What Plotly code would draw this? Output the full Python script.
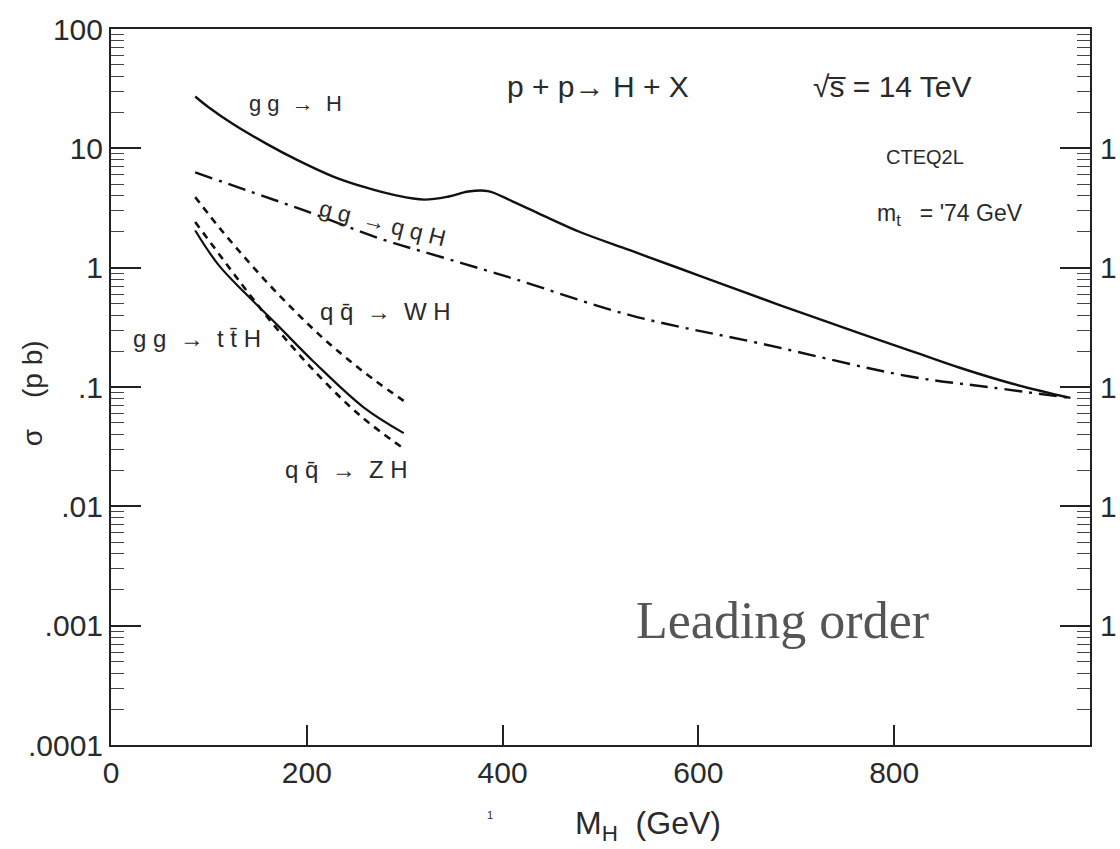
import plotly.graph_objects as go

# ---- data ----
gg_h_x = [86, 100, 125, 159, 190, 227, 260, 290, 320, 345, 365, 385, 410, 445, 479, 530, 581, 630, 683, 765, 820, 867, 920, 980]
gg_h_y = [27.2, 22.0, 15.9, 10.9, 8.0, 5.8, 4.7, 4.05, 3.72, 3.95, 4.35, 4.38, 3.6, 2.65, 1.99, 1.40, 0.984, 0.70, 0.486, 0.282, 0.197, 0.145, 0.107, 0.081]

qqh_x = [86, 140, 196, 275, 340, 411, 530, 663, 816, 900, 980]
qqh_y = [6.3, 4.4, 3.05, 1.75, 1.21, 0.81, 0.40, 0.232, 0.1225, 0.099, 0.081]

tth_x = [86, 110, 139, 170, 207, 258, 299]
tth_y = [2.05, 1.05, 0.589, 0.33, 0.163, 0.0676, 0.0411]

wh_x = [86, 115, 156, 190, 217, 241, 268, 302]
wh_y = [3.9, 1.96, 0.807, 0.415, 0.255, 0.173, 0.116, 0.0736]

zh_x = [86, 105, 122, 139, 170, 207, 254, 299]
zh_y = [2.41, 1.49, 0.968, 0.634, 0.304, 0.138, 0.058, 0.0305]

x_ticks = [0, 200, 400, 600, 800, 1000]
y_ticks = [1e-4, 1e-3, 1e-2, 1e-1, 1, 10, 100]
y_tick_text = [".0001", ".001", ".01", ".1", "1", "10", "100"]
right_label_exps = [1, 0, -1, -2, -3]

FONT = "Liberation Sans"
TXT = "#2a2a2a"

fig = go.Figure()

def add_line(x, y, dash, width=2.4):
    fig.add_trace(go.Scatter(x=x, y=y, mode="lines",
                             line=dict(color="#111111", width=width, dash=dash, shape="spline", smoothing=1.0),
                             showlegend=False, hoverinfo="skip"))

add_line(gg_h_x, gg_h_y, "solid")
add_line(qqh_x, qqh_y, "18px,7px,3px,7px")
add_line(tth_x, tth_y, "solid", 2.2)
add_line(wh_x, wh_y, "7px,6px", 2.6)
add_line(zh_x, zh_y, "7px,6px", 2.6)

minor_vals = [m * 10.0 ** e for e in range(-4, 2) for m in range(2, 10)]

fig.update_xaxes(range=[0, 1000], tickvals=x_ticks, ticktext=[str(v) for v in x_ticks],
                 ticks="inside", ticklen=20, tickwidth=1.5, tickcolor="#222",
                 showline=True, linewidth=2, linecolor="#222", mirror=True,
                 showgrid=False, zeroline=False,
                 tickfont=dict(family=FONT, size=30, color=TXT))

fig.update_yaxes(type="log", range=[-4, 2], tickvals=y_ticks, ticktext=y_tick_text,
                 ticks="inside", ticklen=30, tickwidth=1.5, tickcolor="#222",
                 minor=dict(ticks="inside", ticklen=13, tickwidth=1.2, tickcolor="#444", tickvals=minor_vals),
                 showline=True, linewidth=2, linecolor="#222", mirror="ticks",
                 showgrid=False, zeroline=False,
                 tickfont=dict(family=FONT, size=30, color=TXT))

ann = []
def t(text, x, y, size, angle=0, family=FONT, color=TXT, xanchor="center", xref="paper", yref="paper"):
    ann.append(dict(text=text, x=x, y=y, xref=xref, yref=yref, showarrow=False,
                    font=dict(family=family, size=size, color=color),
                    textangle=angle, xanchor=xanchor, yanchor="middle"))

def px(xp):
    return (xp - 111) / 979.0

def py(yp):
    return (745 - yp) / 718.75

t("g g  →  H", px(295), py(101), 22)
t("p + p→ H + X", px(598), py(84), 30)
t("√s̅ = 14 TeV", px(892), py(84), 30)
t("CTEQ2L", px(925), py(155), 20)
t("m<sub>t</sub>   = '74 GeV", px(950), py(212), 23)
t("g g  → q q H", px(382), py(221), 23, angle=14)
t("q q̄  →  W H", px(385), py(310), 24)
t("g g  →  t t̄ H", px(197), py(337), 24)
t("q q̄  →  Z H", px(346), py(468), 24)
t("Leading order", px(782), py(620), 52, family="Liberation Serif", color="#555555")
t("σ    (p b)", px(32), py(392), 28, angle=-90)
t("M<sub>H</sub>  (GeV)", px(648), py(826), 32)
t("1", px(490), py(815), 11)
for e in right_label_exps:
    t("1", px(1119), e, 30, xanchor="right", yref="y")

fig.update_layout(width=1120, height=849,
                  margin=dict(l=111, r=30, t=26, b=104),
                  paper_bgcolor="white", plot_bgcolor="white",
                  annotations=ann, showlegend=False)

fig.write_html("out.html")
